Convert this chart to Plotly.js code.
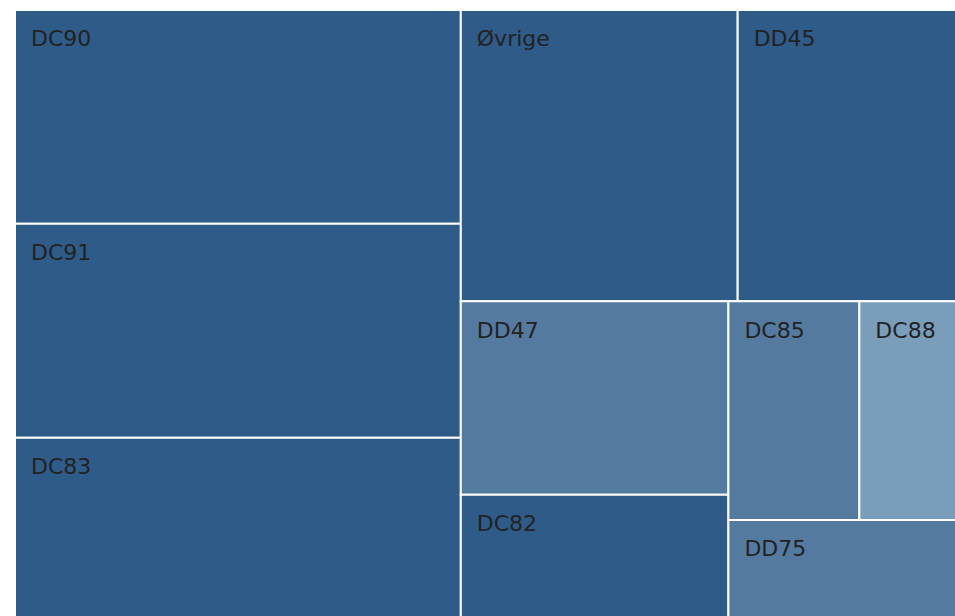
<!DOCTYPE html>
<html>
<head>
<meta charset="utf-8">
<script src="https://cdn.plot.ly/plotly-3.0.1.min.js"></script>
<style>html,body{margin:0;padding:0;background:#fff;overflow:hidden;}#chart{width:956px;height:617px;}</style>
</head>
<body>
<div id="chart"></div>
<script>
// Data (in drawing order)
const labels = ["DC90", "DC91", "DC83", "Øvrige", "DD45", "DD47", "DC82", "DC85", "DC88", "DD75"];
const values = [950, 952, 797, 804, 634, 517, 326, 286, 211, 220];
const colorGroups = ["dark", "dark", "dark", "dark", "dark", "mid", "dark", "mid", "light", "mid"];

const palette = { dark: "#2e5b87", mid: "#547b9f", light: "#7a9dba" };
const parents = labels.map(() => "");
const colors = colorGroups.map(g => palette[g]);

const trace = {
  type: "treemap",
  labels: labels,
  parents: parents,
  values: values,
  sort: false,
  branchvalues: "total",
  marker: {
    colors: colors,
    line: { color: "#ffffff", width: 2 },
    pad: { t: 0, l: 0, r: 0, b: 0 }
  },
  tiling: { packing: "squarify", squarifyratio: 1.7, pad: 0 },
  pathbar: { visible: false },
  textposition: "top left",
  texttemplate: '<span style="font-size:23px">\u00a0</span><br><span style="font-size:26px">\u2002</span><span style="font-size:22px">%{label}</span>',
  textfont: { family: "DejaVu Sans", size: 9.5, color: "#222222" },
  hoverinfo: "label+value"
};

const layout = {
  width: 956,
  height: 617,
  margin: { l: 15, r: 0, t: 10, b: 0 },
  paper_bgcolor: "#ffffff",
  font: { family: "DejaVu Sans", color: "#222222" },
  showlegend: false
};

Plotly.newPlot("chart", [trace], layout, { displayModeBar: false, staticPlot: true });
</script>
</body>
</html>
